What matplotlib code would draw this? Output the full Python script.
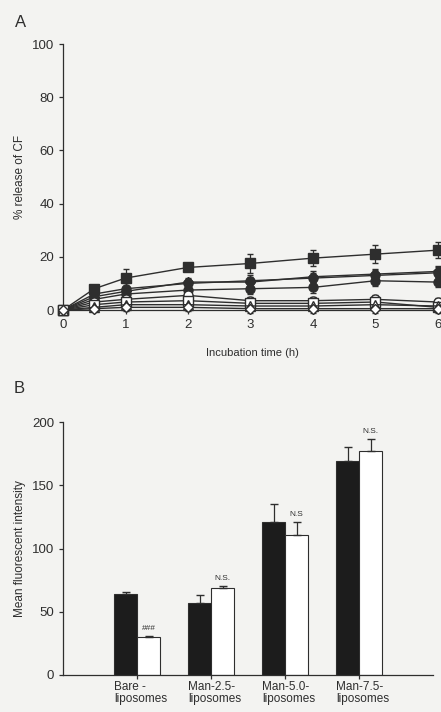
"""
Two-panel figure: CF release over incubation time (A) and
mean fluorescent intensity for liposome formulations (B).
"""

import matplotlib
import matplotlib.pyplot as plt
import numpy as np

matplotlib.use("Agg")

plt.rcParams["font.family"] = ["Liberation Sans", "DejaVu Sans"]

# ---------------------------------------------------------------------------
# Panel A data: % release of CF over time
# ---------------------------------------------------------------------------
TIME_H = [0, 0.5, 1, 2, 3, 4, 5, 6]

REL_SQ_FILLED = [0, 8, 12, 16, 17.5, 19.5, 21, 22.5]
REL_CIRC_FILLED = [0, 6, 8, 10, 11, 12, 13, 14]
REL_DIAM_FILLED = [0, 5, 7, 10.5, 10.5, 12.5, 13.5, 14.5]
REL_CIRC_LOW = [0, 4, 6, 7.5, 8, 8.5, 11, 10.5]
REL_CIRC_OPEN = [0, 3, 4, 5.5, 3.5, 3.5, 4, 3]
REL_SQ_OPEN = [0, 2, 3, 3.5, 2.5, 2.5, 3, 1]
REL_TRI_OPEN = [0, 1, 2, 2, 1.5, 1.5, 2, 1.5]
REL_DIAM_OPEN = [0, 0.5, 1, 1, 0.5, 0.5, 0.5, 0.5]

ERR_SQ_FILLED = [0, 1.5, 3.5, 1.5, 3.5, 3.0, 3.5, 3.0]
ERR_CIRC_FILLED = [0, 1.0, 2.0, 1.5, 2.0, 2.0, 2.0, 2.0]
ERR_SMALL = [0, 1.0, 1.5, 1.5, 1.5, 1.5, 1.5, 1.5]

# ---------------------------------------------------------------------------
# Panel B data: mean fluorescent intensity
# ---------------------------------------------------------------------------
GROUPS = ["Bare -\nliposomes", "Man-2.5-\nliposomes", "Man-5.0-\nliposomes", "Man-7.5-\nliposomes"]
MFI_BLACK = [64, 57, 121, 169]
MFI_BLACK_ERR = [1.5, 6, 14, 11]
MFI_WHITE = [30, 69, 111, 177]
MFI_WHITE_ERR = [1, 1.5, 10, 10]
SIG_LABELS = ["###", "N.S.", "N.S", "N.S."]

INK = "#2e2e2e"
PAPER = "#f3f3f1"


def style_axis(ax):
    for side in ("top", "right"):
        ax.spines[side].set_visible(False)
    for side in ("left", "bottom"):
        ax.spines[side].set_color(INK)
        ax.spines[side].set_linewidth(0.9)
    ax.tick_params(colors=INK, labelcolor=INK, labelsize=9.5, width=0.9, length=3)
    ax.set_facecolor(PAPER)


fig = plt.figure(figsize=(4.41, 7.12), dpi=100, facecolor=PAPER)

# ---------------------------- Panel A ----------------------------------
ax_a = fig.add_axes([0.143, 0.5646, 0.857, 0.3736])
style_axis(ax_a)

series = [
    (REL_SQ_FILLED, ERR_SQ_FILLED, "s", INK),
    (REL_CIRC_FILLED, ERR_CIRC_FILLED, "o", INK),
    (REL_DIAM_FILLED, ERR_CIRC_FILLED, "D", INK),
    (REL_CIRC_LOW, ERR_CIRC_FILLED, "o", INK),
    (REL_CIRC_OPEN, ERR_SMALL, "o", "white"),
    (REL_SQ_OPEN, ERR_SMALL, "s", "white"),
    (REL_TRI_OPEN, ERR_SMALL, "^", "white"),
    (REL_DIAM_OPEN, ERR_SMALL, "D", "white"),
]
for values, errs, marker, face in series:
    ax_a.errorbar(
        TIME_H, values, yerr=errs, color=INK, linewidth=1.0, marker=marker,
        markersize=6.5 if marker != "D" else 5.5, markerfacecolor=face,
        markeredgecolor=INK, markeredgewidth=1.0, ecolor=INK, elinewidth=0.9,
        capsize=2.5, clip_on=False, zorder=3,
    )

ax_a.set_xlim(0, 6.05)
ax_a.set_ylim(0, 100)
ax_a.set_xticks(range(0, 7))
ax_a.set_yticks(range(0, 101, 20))
ax_a.set_xlabel("Incubation time (h)", fontsize=8, color=INK, labelpad=12)
ax_a.set_ylabel("% release of CF", fontsize=8.5, color=INK, labelpad=4)
fig.text(0.035, 0.962, "A", fontsize=12, color=INK)

# ---------------------------- Panel B ----------------------------------
ax_b = fig.add_axes([0.143, 0.052, 0.839, 0.355])
style_axis(ax_b)

pos = np.arange(1, len(GROUPS) + 1)
width = 0.31
ax_b.bar(pos - width / 2, MFI_BLACK, width, color="#1c1c1c", edgecolor=INK,
         linewidth=0.8, zorder=2)
ax_b.bar(pos + width / 2, MFI_WHITE, width, color="white", edgecolor=INK,
         linewidth=0.8, zorder=2)
ax_b.errorbar(pos - width / 2, MFI_BLACK, yerr=[np.zeros(len(pos)), MFI_BLACK_ERR],
              fmt="none", ecolor=INK, elinewidth=0.9, capsize=3, zorder=3)
ax_b.errorbar(pos + width / 2, MFI_WHITE, yerr=[np.zeros(len(pos)), MFI_WHITE_ERR],
              fmt="none", ecolor=INK, elinewidth=0.9, capsize=3, zorder=3)

for x, v, e, lab in zip(pos, MFI_WHITE, MFI_WHITE_ERR, SIG_LABELS):
    ax_b.text(x + width / 2, v + e + 3, lab, ha="center", va="bottom",
              fontsize=6, color=INK)

ax_b.set_xlim(0, 5)
ax_b.set_ylim(0, 200)
ax_b.set_yticks(range(0, 201, 50))
ax_b.set_xticks(pos)
ax_b.set_xticklabels([])
for x, lab in zip(pos, GROUPS):
    ax_b.text(x - width, -5, lab, ha="left", va="top", fontsize=8.5,
              color=INK, linespacing=0.95)
ax_b.set_ylabel("Mean fluorescent intensity", fontsize=8.5, color=INK, labelpad=4)
fig.text(0.03, 0.448, "B", fontsize=12, color=INK)

fig.savefig("out.png", dpi=100, facecolor=PAPER)
plt.close(fig)
